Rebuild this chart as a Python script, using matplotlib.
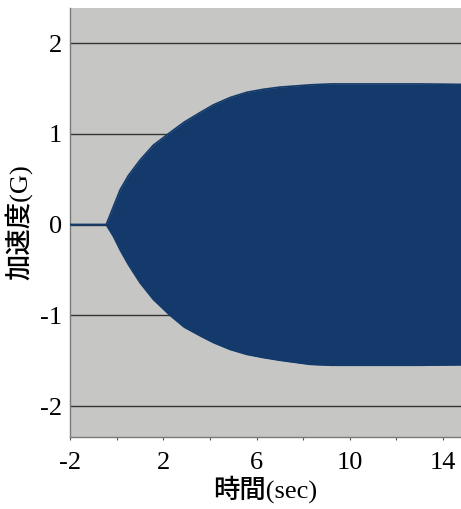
import matplotlib
matplotlib.use("Agg")
import matplotlib.pyplot as plt

plt.rcParams["axes.unicode_minus"] = False

# Enveloppe du signal d'accélération (G) en fonction du temps (s)
temps = [-2.0, -0.45, -0.14, 0.15, 0.5, 1.0, 1.57, 2.29, 2.9, 3.58, 4.15,
         4.86, 5.58, 6.29, 7.0, 8.3, 9.2, 11.0, 13.0, 14.8]
enveloppe_haut = [0.0, 0.0, 0.20, 0.385, 0.54, 0.711, 0.875, 1.015, 1.13,
                  1.235, 1.32, 1.40, 1.458, 1.491, 1.515, 1.54, 1.55, 1.55,
                  1.55, 1.545]
enveloppe_bas = [0.0, 0.0, -0.13, -0.28, -0.44, -0.64, -0.824, -1.0,
                 -1.13, -1.225, -1.30, -1.375, -1.43, -1.465, -1.495, -1.54,
                 -1.55, -1.55, -1.55, -1.545]

graduations_x = [-2, 2, 6, 10, 14]
graduations_y = [-2, -1, 0, 1, 2]

couleur_signal = "#133a6a"
couleur_fond = "#c6c6c4"
polices_titre = ["Liberation Serif", "Noto Sans CJK JP"]

fig = plt.figure(figsize=(4.61, 5.09), dpi=100)
ax = fig.add_axes([0.152, 0.1415, 0.848, 0.8425])
ax.set_facecolor(couleur_fond)

for y in graduations_y:
    ax.axhline(y, color="#333333", linewidth=1.0, zorder=1)

ax.fill_between(temps, enveloppe_bas, enveloppe_haut, color=couleur_signal,
                linewidth=0, zorder=2)
ax.plot(temps, enveloppe_haut, color=couleur_signal, linewidth=1.2, zorder=3)
ax.plot(temps, enveloppe_bas, color=couleur_signal, linewidth=1.2, zorder=3)

ax.set_xlim(-2, 14.77)
ax.set_ylim(-2.34, 2.385)

ax.set_xticks(graduations_x)
ax.set_xticks([0, 4, 8, 12], minor=True)
ax.set_yticks(graduations_y)

ax.tick_params(axis="x", which="both", direction="out", length=2.5,
               width=0.8, color="#555555", pad=8)
ax.tick_params(axis="y", length=0, pad=6)

for lab in ax.get_xticklabels() + ax.get_yticklabels():
    lab.set_fontfamily("Liberation Serif")
    lab.set_fontsize(19)

for cote in ["top", "right"]:
    ax.spines[cote].set_visible(False)
for cote in ["left", "bottom"]:
    ax.spines[cote].set_color("#7a7a7a")
    ax.spines[cote].set_linewidth(1.0)

ax.set_xlabel("時間(sec)", fontsize=19, family=polices_titre, weight=500,
              labelpad=1)
ax.set_ylabel("加速度(G)", fontsize=19, family=polices_titre, weight=500,
              labelpad=5)

fig.savefig("out.png", dpi=100)
